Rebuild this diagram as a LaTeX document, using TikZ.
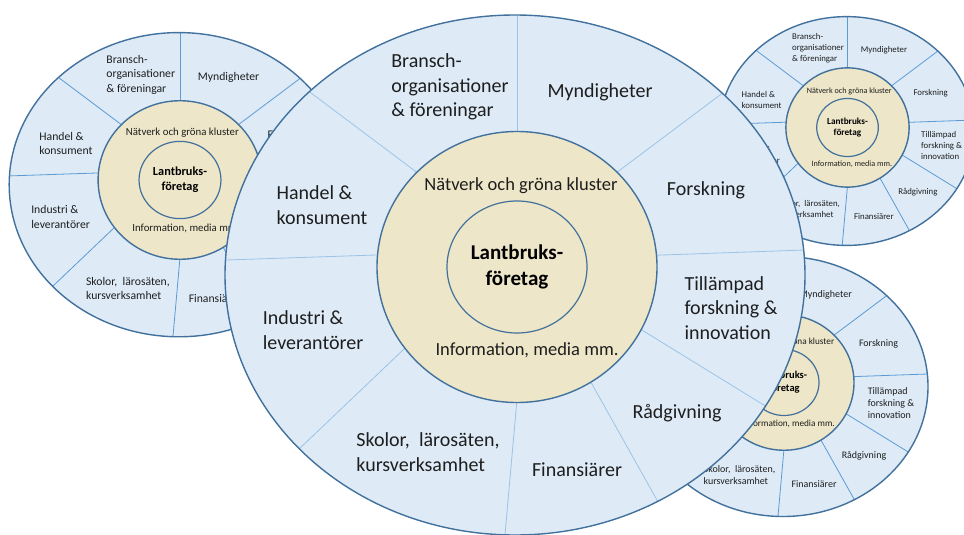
\documentclass[tikz,border=0pt]{standalone}
\usepackage{fontspec}
\setmainfont{Carlito}
\usepackage{tikz}

\definecolor{ringblue}{RGB}{222,235,247}
\definecolor{edgeblue}{RGB}{65,113,156}
\definecolor{spokeblue}{RGB}{157,195,230}
\definecolor{spokedark}{RGB}{91,155,213}
\definecolor{coretan}{RGB}{237,230,200}
\definecolor{labelgray}{RGB}{30,30,30}

\tikzset{
  ring/.style={fill=ringblue},
  ringedge/.style={draw=edgeblue, line width=1.4pt},
  spoke/.style={draw=spokeblue, line width=0.8pt},
  core/.style={fill=coretan, draw=edgeblue, line width=1.4pt},
  hubring/.style={draw=edgeblue, line width=1.2pt},
  sector/.style={text=labelgray, align=left, inner sep=0pt, font=\fontsize{20}{24.5}\selectfont},
  ringlabel/.style={text=labelgray, inner sep=0pt, font=\fontsize{18.5}{22}\selectfont},
  hub/.style={text=black, align=center, inner sep=0pt, font=\fontsize{21}{26}\selectfont\bfseries}
}

% one wheel: #1 name, #2 centre, #3 scale, #4 spoke options
\newcommand{\drawwheel}[4]{%
  \begin{scope}[shift={#2}, scale=#3, transform shape]
    % Filling outer ring
    \path[ring] (-2,-8) ellipse [x radius=290, y radius=260];
    % Drawing the sector borders
    \begin{scope}
      \clip (-2,-8) ellipse [x radius=290, y radius=260];
      \foreach \px/\py/\qx/\qy in {0/100/0/300, 55/61/303/247, 60/9/330/18.5,
          55/-20/311/-177.5, 52.5/-77/172.5/-291, 2/-110/-14/-290,
          -63.6/-35/-271.5/-233, -60/14.7/-330/5.7, -66/69/-330/267}
        \draw[spoke, #4] (\px,\py) -- (\qx,\qy);
    \end{scope}
    \draw[ringedge] (-2,-8) ellipse [x radius=290, y radius=260];
    % Filling the middle ring and the hub
    \draw[core] (0,0) ellipse [x radius=140, y radius=135.5];
    \draw[hubring] (0,0) ellipse [x radius=70, y radius=66];
    % Labels
    \node[hub] (#1-hub) at (0,0) {Lantbruks-\\företag};
    \node[ringlabel] (#1-natverk) at (4,81) {Nätverk och gröna kluster};
    \node[ringlabel] (#1-info) at (10,-83) {Information, media mm.};
    \node[sector] (#1-bransch) at (-67,180) {Bransch-\\organisationer\\\& föreningar};
    \node[sector] (#1-myndigheter) at (83,175) {Myndigheter};
    \node[sector] (#1-forskning) at (189,77) {Forskning};
    \node[sector] (#1-tillampad) at (214,-41) {Tillämpad\\forskning \&\\innovation};
    \node[sector] (#1-radgivning) at (160,-146) {Rådgivning};
    \node[sector] (#1-finans) at (60,-203) {Finansiärer};
    \node[sector] (#1-skolor) at (-89,-185) {Skolor,~ lärosäten,\\kursverksamhet};
    \node[sector] (#1-industri) at (-204,-63) {Industri \&\\leverantörer};
    \node[sector] (#1-handel) at (-195,62) {Handel \&\\konsument};
  \end{scope}}

\begin{document}
\begin{tikzpicture}[x=1pt, y=1pt]
  \useasboundingbox (0,0) rectangle (964,-535);
  \clip (0,0) rectangle (964,-535);

  % Drawing the three small wheels behind
  \drawwheel{L}{(180,-180)}{0.585}{draw=spokedark}
  \drawwheel{TR}{(847.5,-127.5)}{0.44}{draw=spokedark}
  \drawwheel{BR}{(784,-382.5)}{0.5}{draw=spokedark}

  % Drawing the big wheel on top
  \drawwheel{C}{(517,-267)}{1}{}
\end{tikzpicture}
\end{document}
